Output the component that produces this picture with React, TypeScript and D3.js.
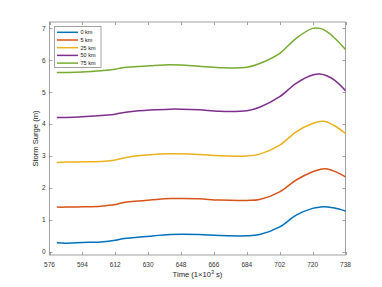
import React, { useEffect, useRef } from 'react';
import * as d3 from 'd3';

// time in 10^3 s
const times = [580, 585, 594, 604, 612, 616, 620, 631, 642, 648, 658, 669, 684, 691, 702, 711, 720, 724, 727, 732, 738];

const seriesNames = ['0 km', '5 km', '25 km', '50 km', '75 km'];
const seriesColors = ['#0072BD', '#D95319', '#EDB120', '#7E2F8E', '#77AC30'];

const surge0 = [0.28, 0.27, 0.29, 0.31, 0.36, 0.41, 0.43, 0.49, 0.54, 0.55, 0.54, 0.51, 0.50, 0.54, 0.78, 1.15, 1.36, 1.40, 1.41, 1.37, 1.28];
const surge5 = [1.40, 1.40, 1.41, 1.43, 1.48, 1.54, 1.57, 1.62, 1.67, 1.67, 1.66, 1.62, 1.61, 1.64, 1.88, 2.25, 2.51, 2.58, 2.60, 2.52, 2.35];
const surge25 = [2.80, 2.81, 2.82, 2.83, 2.88, 2.93, 2.98, 3.04, 3.07, 3.07, 3.05, 3.01, 3.00, 3.06, 3.34, 3.76, 4.02, 4.08, 4.08, 3.95, 3.71];
const surge50 = [4.21, 4.21, 4.23, 4.27, 4.31, 4.36, 4.39, 4.44, 4.47, 4.47, 4.45, 4.40, 4.42, 4.53, 4.86, 5.28, 5.54, 5.57, 5.53, 5.38, 5.05];
const surge75 = [5.62, 5.62, 5.63, 5.67, 5.72, 5.77, 5.79, 5.83, 5.86, 5.85, 5.81, 5.77, 5.78, 5.90, 6.22, 6.69, 7.00, 7.00, 6.93, 6.70, 6.34];

const allSeries = [surge0, surge5, surge25, surge50, surge75];

const xTicks = [576, 594, 612, 630, 648, 666, 684, 702, 720, 738];
const yTicks = [0, 1, 2, 3, 4, 5, 6, 7];

const App: React.FC = () => {
    const svgRef = useRef<SVGSVGElement>(null);

    useEffect(() => {
        if (!svgRef.current) return;
        const svg = d3.select(svgRef.current);
        svg.selectAll('*').remove();

        const left = 49.5, right = 345.5, top = 22, bottom = 255;
        const font = 'Helvetica, "Liberation Sans", Arial, sans-serif';
        const axisColor = '#8a8a8a';
        const textColor = '#333';

        const x = d3.scaleLinear().domain([576, 738]).range([left, right]);
        const y = d3.scaleLinear().domain([-0.1, 7.2]).range([bottom, top]);

        // box
        svg.append('rect')
            .attr('x', left).attr('y', top)
            .attr('width', right - left).attr('height', bottom - top)
            .attr('fill', 'white')
            .attr('stroke', axisColor)
            .attr('stroke-width', 0.8);

        // ticks (inward, all four sides)
        xTicks.forEach(t => {
            const xp = Math.round(x(t)) + 0.5;
            svg.append('line').attr('x1', xp).attr('x2', xp).attr('y1', bottom).attr('y2', bottom - 3)
                .attr('stroke', axisColor).attr('stroke-width', 0.8);
            svg.append('line').attr('x1', xp).attr('x2', xp).attr('y1', top).attr('y2', top + 3)
                .attr('stroke', axisColor).attr('stroke-width', 0.8);
            svg.append('text')
                .attr('x', x(t)).attr('y', bottom + 12)
                .attr('text-anchor', 'middle')
                .attr('font-family', font).attr('font-size', '6.5px')
                .attr('fill', textColor)
                .text(t);
        });
        yTicks.forEach(t => {
            const yp = Math.round(y(t)) + 0.5;
            svg.append('line').attr('x1', left).attr('x2', left + 3).attr('y1', yp).attr('y2', yp)
                .attr('stroke', axisColor).attr('stroke-width', 0.8);
            svg.append('line').attr('x1', right).attr('x2', right - 3).attr('y1', yp).attr('y2', yp)
                .attr('stroke', axisColor).attr('stroke-width', 0.8);
            svg.append('text')
                .attr('x', left - 4).attr('y', y(t) + 2.3)
                .attr('text-anchor', 'end')
                .attr('font-family', font).attr('font-size', '6.5px')
                .attr('fill', textColor)
                .text(t);
        });

        // axis labels
        const xl = svg.append('text')
            .attr('x', (left + right) / 2).attr('y', 277)
            .attr('text-anchor', 'middle')
            .attr('font-family', font).attr('font-size', '7.6px')
            .attr('fill', '#222');
        xl.append('tspan').text('Time (1\u00D710');
        xl.append('tspan').attr('dy', -3).attr('font-size', '5.4px').text('3');
        xl.append('tspan').attr('dy', 3).text(' s)');

        svg.append('text')
            .attr('transform', `translate(37.5, ${(top + bottom) / 2}) rotate(-90)`)
            .attr('text-anchor', 'middle')
            .attr('font-family', font).attr('font-size', '7.6px')
            .attr('fill', '#222')
            .text('Storm Surge (m)');

        // lines
        const line = d3.line<number>()
            .x((_d: number, i: number) => x(times[i]))
            .y((d: number) => y(d))
            .curve(d3.curveCatmullRom.alpha(0.5));

        allSeries.forEach((s, i) => {
            svg.append('path')
                .datum(s)
                .attr('d', line)
                .attr('fill', 'none')
                .attr('stroke', seriesColors[i])
                .attr('stroke-width', 1.5);
        });

        // legend
        const lg = svg.append('g');
        lg.append('rect')
            .attr('x', 54.5).attr('y', 26.5)
            .attr('width', 46.5).attr('height', 41)
            .attr('fill', 'white')
            .attr('stroke', axisColor).attr('stroke-width', 0.8);
        seriesNames.forEach((name, i) => {
            const ly = 32.3 + i * 7.7;
            lg.append('line')
                .attr('x1', 57).attr('x2', 78).attr('y1', ly).attr('y2', ly)
                .attr('stroke', seriesColors[i]).attr('stroke-width', 1.5);
            lg.append('text')
                .attr('x', 80.5).attr('y', ly + 2)
                .attr('font-family', font).attr('font-size', '5.5px')
                .attr('fill', '#111')
                .text(name);
        });
    }, []);

    return (
        <svg ref={svgRef} width={382} height={287}
            style={{ position: 'absolute', left: 0, top: 0, background: 'white' }}></svg>
    );
};

export default App;
